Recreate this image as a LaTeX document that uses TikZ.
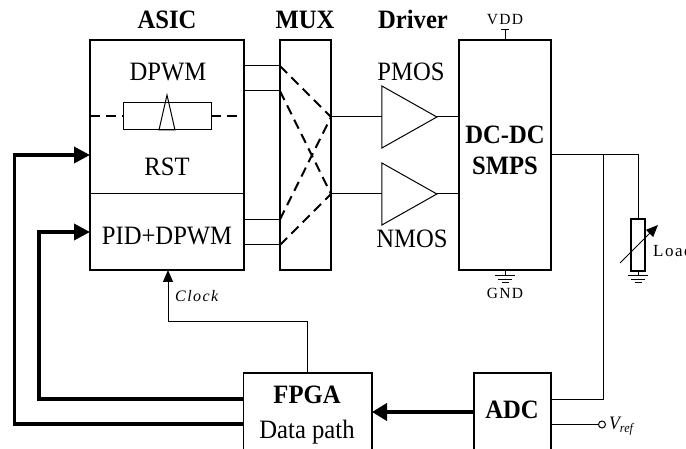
\documentclass[tikz,border=0pt]{standalone}
\usepackage{fontspec}
\setmainfont[FakeStretch=0.93]{Liberation Serif}
\newfontfamily\widefont[LetterSpace=9]{Liberation Serif}
\usetikzlibrary{arrows.meta,positioning,shapes.geometric}

\begin{document}
\begin{tikzpicture}[
  x=1pt, y=-1pt,
  font=\fontsize{26.5}{30}\selectfont,
  blk/.style={draw,line width=1.5pt,outer sep=0pt,inner sep=0pt},
  lbl/.style={anchor=base,inner sep=0pt},
  hd/.style={lbl,font=\fontsize{26.5}{30}\selectfont\bfseries},
  small/.style={lbl,font=\fontsize{15.5}{18}\selectfont\widefont},
  wire/.style={line width=1pt},
  mx/.style={line width=2pt,dash pattern=on 10pt off 6pt},
  thick path/.style={line width=3.6pt,line join=miter,-{Triangle[length=16pt,width=16pt]}},
  drv/.style={draw,line width=1pt,outer sep=0pt,inner sep=0pt,shape=isosceles triangle,
    isosceles triangle stretches,minimum width=62pt,minimum height=55pt},
  gnd/.style={line width=1pt}]
\useasboundingbox (0,0) rectangle (686,449);
% main row
\node[blk,minimum width=154pt,minimum height=230pt] (asic) at (167,155) {};
\node[blk,minimum width=51pt,minimum height=230pt,right=36pt of asic] (mux) {};
\node[blk,minimum width=92pt,minimum height=230pt,right=128pt of mux] (dcdc) {};
\node[drv] (pmos) at (400,117) {};
\node[drv] (nmos) at (400,194) {};
% bottom row
\node[blk,minimum width=128.5pt,minimum height=78pt] (fpga) at (307.75,412) {};
\node[blk,minimum width=77pt,minimum height=78pt] (adc) at (512.5,412) {};
% headings
\node[hd] (asicT) at (167,29) {ASIC};
\node[hd] (muxT) at (305,29) {MUX};
\node[hd] (drvT) at (413,29) {Driver};
\node[lbl] (dpwm) at (168,81) {DPWM};
\node[lbl] (rst) at (167,176) {RST};
\node[lbl] (pid) at (167,245) {PID+DPWM};
\node[lbl] (pmosT) at (411,81) {PMOS};
\node[lbl] (nmosT) at (412,248) {NMOS};
\node[hd] (dc) at (505,144) {DC-DC};
\node[hd] (smps) at (505,175) {SMPS};
\node[hd] (fpgaT) at (307,403) {FPGA};
\node[lbl] (path) at (307,438) {Data path};
\node[hd] (adcT) at (512,418) {ADC};
\node[small] (vdd) at (505,25) {VDD};
\node[small] (gndT) at (505,299) {GND};
\node[small,anchor=base west,font=\fontsize{17}{20}\selectfont\widefont] (loadT) at (653,257) {Load};
\node[lbl,anchor=base west,font=\fontsize{16}{18}\selectfont\widefont\itshape] (clk) at (175,302) {Clock};
\node[lbl,anchor=base west,font=\fontsize{19}{20}\selectfont\itshape] (vref) at (609,429) {V\raisebox{-3pt}{\fontsize{13}{14}\selectfont ref}};
% split and rheostat
\node[draw,line width=1pt,minimum width=88pt,minimum height=27pt,inner sep=0pt,outer sep=0pt] (rh) at (167,116.5) {};
\draw[wire] (asic.west |- 0,194) -- (asic.east |- 0,194);
\draw[mx] (asic.west |- rh) -- (rh.west);
\draw[mx] (rh.east) -- (asic.east |- rh);
\draw[wire,line join=miter] (159,130) -- (167,95) -- (175,130) -- cycle;
% asic to mux
\coordinate (m1) at (mux.west |- 0,66);
\coordinate (m2) at (mux.west |- 0,91);
\coordinate (m3) at (mux.west |- 0,219.5);
\coordinate (m4) at (mux.west |- 0,245);
\coordinate (o1) at (mux.east |- pmos);
\coordinate (o2) at (mux.east |- nmos);
\foreach \m in {m1,m2,m3,m4} \draw[wire] (asic.east |- \m) -- (\m);
\draw[mx] (m1) -- (o1); \draw[mx] (m3) -- (o1);
\draw[mx] (m2) -- (o2); \draw[mx] (m4) -- (o2);
% drivers
\draw[wire] (o1) -- (pmos.lower side);
\draw[wire] (o2) -- (nmos.lower side);
\draw[wire] (pmos.apex) -- (dcdc.west |- pmos);
\draw[wire] (nmos.apex) -- (dcdc.west |- nmos);
% supply
\coordinate (vt) at (dcdc.north |- 0,30);
\draw[wire] (dcdc.north) -- (vt);
\draw[wire] ([xshift=-4pt]vt) -- ([xshift=4pt]vt);
\coordinate (gt) at (dcdc.south |- 0,276);
\draw[gnd] (dcdc.south) -- (gt) (495,276) -- (515,276) (498,279.5) -- (512,279.5) (501.5,283) -- (508.5,283);
% load
\node[draw,line width=1.5pt,minimum width=14pt,minimum height=52pt,inner sep=0pt,outer sep=0pt] (load) at (638,245) {};
\coordinate (jn) at (603,155);
\draw[wire] (dcdc.east) -| (load.north);
\draw[line width=1pt,-{Triangle[length=12pt,width=10pt]}] (620,263) -- (658,225);
\coordinate (lg) at (load.south |- 0,276);
\draw[gnd] (load.south) -- (lg) (628,276) -- (648,276) (631,279.5) -- (645,279.5) (634.5,283) -- (641.5,283);
% feedback
\draw[wire] (adc.east |- 0,399) -| (jn);
\node[draw,circle,line width=1pt,minimum size=7pt,inner sep=0pt,outer sep=0pt] (pin) at (602,424.5) {};
\draw[wire] (adc.east |- pin) -- (pin);
\draw[line width=4pt,-{Triangle[length=15pt,width=17pt]}] (adc.west) -- (fpga.east);
\coordinate (a1) at (asic.west |- 0,155);
\coordinate (a2) at (asic.west |- 0,232);
\draw[thick path] (fpga.west |- 0,424) -- (14.5,424) -- (14.5,155) -- (a1);
\draw[thick path] (fpga.west |- 0,399) -- (39,399) -- (39,232) -- (a2);
\draw[wire,-{Triangle[length=12pt,width=10pt]}] (fpga.north) |- (168,322) -- (asic.south -| 168,0);
\end{tikzpicture}
\end{document}
